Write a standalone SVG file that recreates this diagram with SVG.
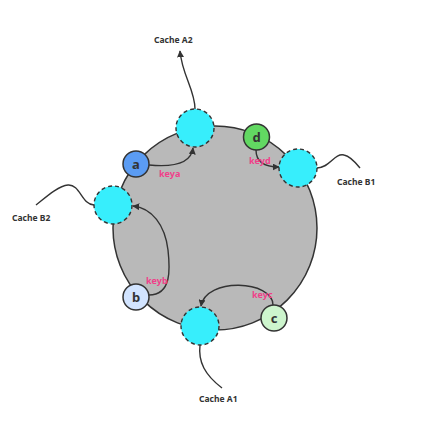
<svg xmlns="http://www.w3.org/2000/svg" width="427" height="422" viewBox="0 0 427 422">
<style>
.ring{fill:#b9b9b9;stroke:#333;stroke-width:1.5}
.cache{fill:#37eefc;stroke:#333;stroke-width:1.4;stroke-dasharray:4 3}
.key{stroke:#333;stroke-width:1.5}
.ln{fill:none;stroke:#333;stroke-width:1.4}
.lbl{font-family:"Noto Sans","Liberation Sans",sans-serif;font-size:8.5px;font-weight:bold;fill:#333}
.kl{font-family:"Noto Sans","Liberation Sans",sans-serif;font-size:9px;font-weight:bold;fill:#f0408a}
.kt{font-family:"Noto Sans","Liberation Sans",sans-serif;font-size:13px;font-weight:bold;fill:#333;text-anchor:middle}
</style>
<defs>
<marker id="ah" viewBox="0 0 10 10" refX="9" refY="5" markerWidth="7" markerHeight="7" orient="auto" markerUnits="userSpaceOnUse">
<path d="M0,0 L10,5 L0,10 z" fill="#333"/>
</marker>
</defs>
<circle class="ring" cx="215" cy="228" r="102"/>
<g id="connectors">
<path class="ln" d="M195 109 C195 90 182 75 180 51" marker-end="url(#ah)"/>
<path class="ln" d="M317 168 C330 168 334 153 344 155 C350 156 356 163 360 168"/>
<path class="ln" d="M94 205 C82 205 80 184 68 185 C58 186 46 197 36 205"/>
<path class="ln" d="M200 345 C198 362 205 375 222 388"/>
<path class="ln" d="M149 165 C170 167 191 165 193 148" marker-end="url(#ah)"/>
<path class="ln" d="M256 150 C256 162 265 167 279 167" marker-end="url(#ah)"/>
<path class="ln" d="M149 295 C172 295 170 268 168 250 C165 225 152 208 133 206" marker-end="url(#ah)"/>
<path class="ln" d="M273 305 C273 280 206 277 201 306" marker-end="url(#ah)"/>
</g>
<g id="cacheA2"><circle class="cache" cx="195" cy="128" r="19"/><text class="lbl" x="154" y="43">Cache A2</text></g>
<g id="cacheB1"><circle class="cache" cx="298" cy="168" r="19"/><text class="lbl" x="337" y="185">Cache B1</text></g>
<g id="cacheB2"><circle class="cache" cx="113" cy="205" r="19"/><text class="lbl" x="12" y="221">Cache B2</text></g>
<g id="cacheA1"><circle class="cache" cx="200" cy="326" r="19"/><text class="lbl" x="199" y="402">Cache A1</text></g>
<g id="a"><circle class="key" cx="136" cy="164" r="13" fill="#5b9cf3"/><text class="kt" x="136" y="168.5">a</text></g>
<g id="d"><circle class="key" cx="256.5" cy="137" r="13" fill="#62d862"/><text class="kt" x="256.5" y="141.5">d</text></g>
<g id="b"><circle class="key" cx="136" cy="297" r="13" fill="#d2e4ff"/><text class="kt" x="136" y="301.5">b</text></g>
<g id="c"><circle class="key" cx="274" cy="318" r="13" fill="#cdf5cd"/><text class="kt" x="274" y="322.5">c</text></g>
<g id="keylabels">
<text class="kl" x="159" y="177">keya</text>
<text class="kl" x="249" y="164">keyd</text>
<text class="kl" x="146" y="284">keyb</text>
<text class="kl" x="252" y="298">keyc</text>
</g>
</svg>
